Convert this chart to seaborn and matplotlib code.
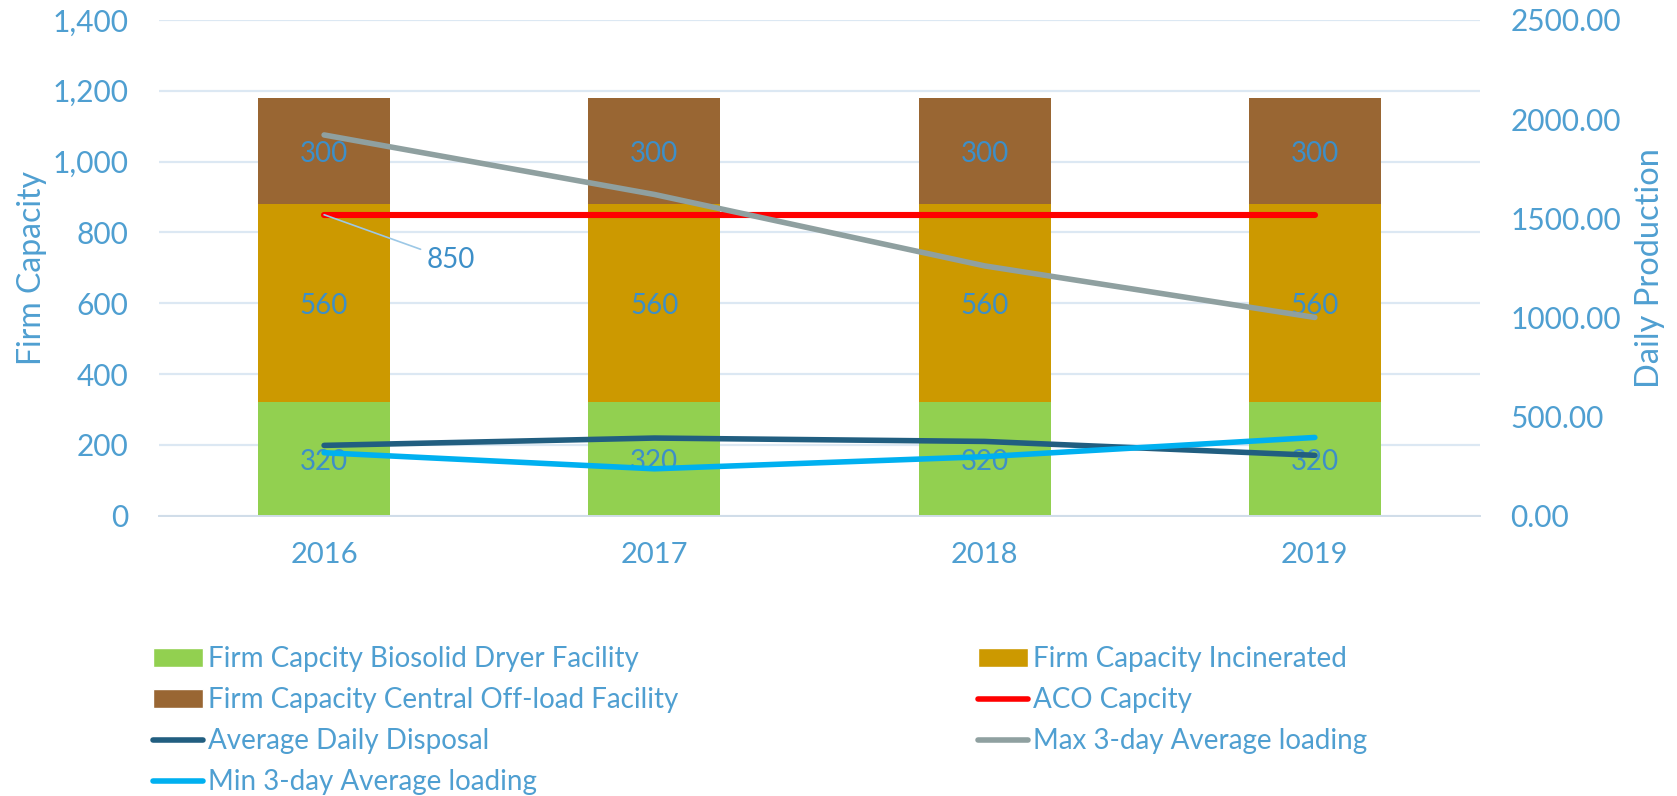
import numpy as np
import pandas as pd
import matplotlib
matplotlib.use('Agg')
import matplotlib.pyplot as plt
from matplotlib.patches import Patch
from matplotlib.lines import Line2D
from matplotlib.ticker import FuncFormatter, MultipleLocator, FixedLocator
import seaborn as sns

# data
years = ['2016', '2017', '2018', '2019']
biosolid = [320, 320, 320, 320]
incinerated = [560, 560, 560, 560]
offload = [300, 300, 300, 300]
aco = [850, 850, 850, 850]
avg_daily = [355, 392, 375, 305]
max_3day = [1920, 1620, 1260, 1000]
min_3day = [318, 237, 298, 395]

# colours
c_bio = '#92D050'
c_inc = '#CC9900'
c_off = '#996633'
c_aco = '#FF0000'
c_avg = '#215E80'
c_max = '#8FA0A0'
c_min = '#00B0F0'
txt = '#4F9FD1'
lbl = '#3D8FC8'
grid = '#DCE8F3'

sns.set_style('white')
plt.rcParams['font.family'] = ['Lato', 'DejaVu Sans']

df = pd.DataFrame({'year': years, 'bio': biosolid, 'inc': incinerated, 'off': offload})
df['mid'] = df['bio'] + df['inc']
df['top'] = df['mid'] + df['off']

fig = plt.figure(figsize=(16.77, 7.96), dpi=100)
ax = fig.add_axes([0.0948, 0.352, 0.7877, 0.623])

# stacked bars (drawn back to front as cumulative totals)
sns.barplot(data=df, x='year', y='top', color=c_off, width=0.4, saturation=1, linewidth=0, ax=ax)
sns.barplot(data=df, x='year', y='mid', color=c_inc, width=0.4, saturation=1, linewidth=0, ax=ax)
sns.barplot(data=df, x='year', y='bio', color=c_bio, width=0.4, saturation=1, linewidth=0, ax=ax)

xpos = np.arange(len(years))
sns.lineplot(x=xpos, y=aco, color=c_aco, lw=4.4, solid_capstyle='round', ax=ax, legend=False)

# segment labels
for i in range(len(years)):
    ax.text(i, biosolid[i] / 2 - 8, str(biosolid[i]), ha='center', va='center', fontsize=20, color=lbl)
    ax.text(i, biosolid[i] + incinerated[i] / 2 - 8, str(incinerated[i]), ha='center', va='center', fontsize=20, color=lbl)
    ax.text(i, biosolid[i] + incinerated[i] + offload[i] / 2 - 8, str(offload[i]), ha='center', va='center', fontsize=20, color=lbl)

ax.annotate(str(aco[0]), xy=(0, aco[0]), xytext=(0.31, 722), ha='left', va='center',
            fontsize=20, color=lbl,
            arrowprops=dict(arrowstyle='-', color='#9CC8E6', lw=1.2, shrinkA=2, shrinkB=0))

ax.set_ylim(0, 1400)
ax.set_xlim(-0.5, 3.5)
ax.yaxis.set_major_locator(MultipleLocator(200))
ax.yaxis.set_major_formatter(FuncFormatter(lambda v, p: f'{v:,.0f}'))
ax.grid(axis='y', color=grid, lw=1.6)
ax.set_axisbelow(True)
for s in ['top', 'left', 'right']:
    ax.spines[s].set_visible(False)
ax.spines['bottom'].set_color('#D0DDE9')
ax.spines['bottom'].set_linewidth(1.4)
ax.tick_params(axis='y', length=0, labelsize=21.5, labelcolor=txt, pad=22)
ax.tick_params(axis='x', which='major', length=0, labelsize=21, labelcolor=txt, pad=19)
ax.xaxis.set_minor_locator(FixedLocator([-0.5, 0.5, 1.5, 2.5, 3.5]))
ax.tick_params(axis='x', which='minor', length=7, color='#D0DDE9', width=1.2)
ax.set_xlabel('')
ax.set_ylabel('Firm Capacity', fontsize=23, color=txt, labelpad=4)

# right axis
ax2 = ax.twinx()
sns.lineplot(x=xpos, y=avg_daily, color=c_avg, lw=4, solid_capstyle='round', ax=ax2, legend=False)
sns.lineplot(x=xpos, y=max_3day, color=c_max, lw=4, solid_capstyle='round', ax=ax2, legend=False)
sns.lineplot(x=xpos, y=min_3day, color=c_min, lw=4, solid_capstyle='round', ax=ax2, legend=False)
ax2.set_ylim(0, 2500)
ax2.set_xlim(-0.5, 3.5)
ax2.yaxis.set_major_locator(MultipleLocator(500))
ax2.yaxis.set_major_formatter(FuncFormatter(lambda v, p: f'{v:.2f}'))
ax2.tick_params(axis='y', length=0, labelsize=21.5, labelcolor=txt, pad=22)
for s in ['top', 'left', 'right', 'bottom']:
    ax2.spines[s].set_visible(False)
ax2.set_ylabel('Daily Production', fontsize=23.5, color=txt, labelpad=10, rotation=90)
ax2.grid(False)

# legends (two columns placed separately)
col1 = [Patch(facecolor=c_bio, label='Firm Capcity Biosolid Dryer Facility'),
        Patch(facecolor=c_off, label='Firm Capacity Central Off-load Facility'),
        Line2D([], [], color=c_avg, lw=4, solid_capstyle='round', label='Average Daily Disposal'),
        Line2D([], [], color=c_min, lw=4, solid_capstyle='round', label='Min 3-day Average loading')]
col2 = [Patch(facecolor=c_inc, label='Firm Capacity Incinerated'),
        Line2D([], [], color=c_aco, lw=4, solid_capstyle='round', label='ACO Capcity'),
        Line2D([], [], color=c_max, lw=4, solid_capstyle='round', label='Max 3-day Average loading')]
leg_kw = dict(frameon=False, fontsize=20, labelcolor=txt, handlelength=1.8, handleheight=0.7,
              handletextpad=0.2, labelspacing=0.54, borderpad=0, borderaxespad=0, loc='upper left')
fig.legend(handles=col1, bbox_to_anchor=(0.091, 0.188), **leg_kw)
fig.legend(handles=col2, bbox_to_anchor=(0.583, 0.188), **leg_kw)

fig.savefig('out.png', dpi=100)
